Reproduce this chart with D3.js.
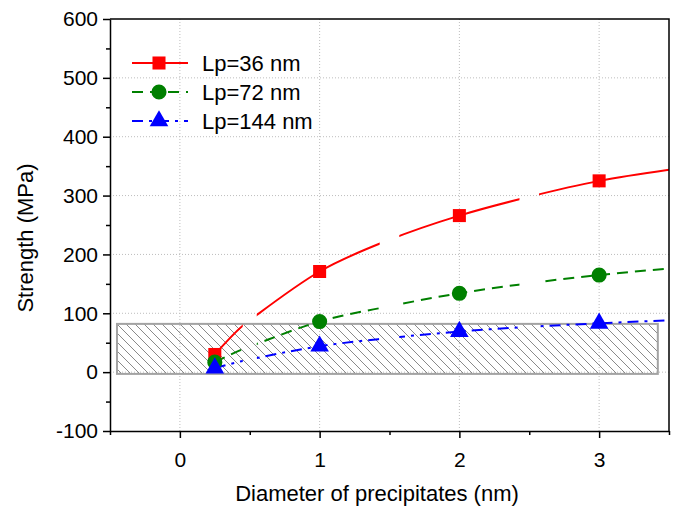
<!DOCTYPE html>
<html>
<head>
<meta charset="utf-8">
<script src="https://cdn.jsdelivr.net/npm/d3@7"></script>
<style>
  body { margin: 0; background: #fff; }
  svg { font-family: "Liberation Sans", Arial, sans-serif; }
</style>
</head>
<body>
<div id="chart"></div>
<script>
const width = 675, height = 508;
const margin = {top: 19, right: 6, bottom: 77, left: 110};

// measured points
const diam = [0.25, 1, 2, 3];
const lp36 = [30, 171, 266, 325];
const lp72 = [17, 86, 134, 165];
const lp144 = [7, 44, 69, 83];

// fitted curves
const fitX = [0.25, 0.45, 0.55, 1, 1.5, 2, 2.5, 3, 3.5];
const fit36 = [30, 79, 97, 171, 225, 266, 298, 325, 344];
const fit72 = [17, 39, 48, 86, 112, 134, 151, 165, 176];
const fit144 = [7, 19, 24, 44, 58, 69, 77, 83, 88];

// breaks in the drawn curves
const gaps = [[0.45, 0.55], [1.43, 1.57], [2.43, 2.57]];

// shaded band (experimental range)
const band = {x0: -0.45, x1: 3.42, y0: -3, y1: 82};

const xTicks = [0, 1, 2, 3];
const xMinor = [-0.5, 0.5, 1.5, 2.5, 3.5];
const yTicks = [-100, 0, 100, 200, 300, 400, 500, 600];
const yMinor = [-50, 50, 150, 250, 350, 450, 550];
const yGrid = [0, 100, 200, 300, 400, 500];

const labels = ["Lp=36 nm", "Lp=72 nm", "Lp=144 nm"];

const x = d3.scaleLinear().domain([-0.5, 3.5]).range([margin.left, width - margin.right]);
const y = d3.scaleLinear().domain([-100, 600]).range([height - margin.bottom, margin.top]);

const svg = d3.select('#chart').append('svg')
  .attr('width', width).attr('height', height);

const defs = svg.append('defs');
defs.append('pattern')
  .attr('id', 'hatch').attr('patternUnits', 'userSpaceOnUse')
  .attr('width', 9).attr('height', 9)
  .append('path')
  .attr('d', 'M0,0L9,9M-1,8L1,10M8,-1L10,1')
  .attr('stroke', '#8a8a8a').attr('stroke-width', 1);

// clip with holes where the curves break
const clip = defs.append('clipPath').attr('id', 'gapclip');
const edges = [-0.5].concat(...gaps).concat([3.5]);
for (let i = 0; i < edges.length; i += 2) {
  clip.append('rect')
    .attr('x', x(edges[i])).attr('y', 0)
    .attr('width', x(edges[i + 1]) - x(edges[i]))
    .attr('height', height);
}

// grid
svg.append('g').selectAll('line').data(xTicks).join('line')
  .attr('x1', d => x(d)).attr('x2', d => x(d))
  .attr('y1', y(600)).attr('y2', y(-100))
  .attr('stroke', '#bdbdbd').attr('stroke-dasharray', '1,2');
svg.append('g').selectAll('line').data(yGrid).join('line')
  .attr('x1', x(-0.5)).attr('x2', x(3.5))
  .attr('y1', d => y(d)).attr('y2', d => y(d))
  .attr('stroke', '#bdbdbd').attr('stroke-dasharray', '1,2');

// band
svg.append('rect')
  .attr('x', x(band.x0)).attr('y', y(band.y1))
  .attr('width', x(band.x1) - x(band.x0))
  .attr('height', y(band.y0) - y(band.y1))
  .attr('fill', 'url(#hatch)')
  .attr('stroke', '#a3a3a3').attr('stroke-width', 2);

const series = [
  {name: labels[0], vals: lp36, fit: fit36, color: '#ff0000', dash: null, shape: d3.symbolSquare, size: 170},
  {name: labels[1], vals: lp72, fit: fit72, color: '#008000', dash: '11,7', shape: d3.symbolCircle, size: 180},
  {name: labels[2], vals: lp144, fit: fit144, color: '#0000ff', dash: '11,6,3,6', shape: d3.symbolTriangle, size: 150}
];

const line = d3.line()
  .x(d => x(d[0])).y(d => y(d[1]))
  .curve(d3.curveMonotoneX);

series.forEach(s => {
  svg.append('path')
    .datum(fitX.map((v, i) => [v, s.fit[i]]))
    .attr('clip-path', 'url(#gapclip)')
    .attr('fill', 'none')
    .attr('stroke', s.color).attr('stroke-width', 2)
    .attr('stroke-dasharray', s.dash)
    .attr('d', line);
});

series.forEach(s => {
  svg.append('g').selectAll('path').data(s.vals).join('path')
    .attr('transform', (d, i) => `translate(${x(diam[i])},${y(d)})`)
    .attr('d', d3.symbol().type(s.shape).size(s.size))
    .attr('fill', s.color);
});

// axes
const xAxis = svg.append('g').attr('transform', `translate(0,${y(-100)})`)
  .call(d3.axisBottom(x).tickValues(xTicks).tickFormat(d => String(d)).tickSize(7).tickSizeOuter(0));
svg.append('g').attr('transform', `translate(0,${y(-100)})`)
  .call(d3.axisBottom(x).tickValues(xMinor).tickFormat('').tickSize(4).tickSizeOuter(0))
  .call(g => g.select('.domain').remove());
const yAxis = svg.append('g').attr('transform', `translate(${x(-0.5)},0)`)
  .call(d3.axisLeft(y).tickValues(yTicks).tickFormat(d => String(d)).tickSize(7).tickSizeOuter(0));
svg.append('g').attr('transform', `translate(${x(-0.5)},0)`)
  .call(d3.axisLeft(y).tickValues(yMinor).tickFormat('').tickSize(4).tickSizeOuter(0))
  .call(g => g.select('.domain').remove());

svg.selectAll('.domain, .tick line').attr('stroke', '#000').attr('stroke-width', 1.5);
xAxis.selectAll('text').attr('font-size', 21).attr('fill', '#000').attr('dy', '1.25em');
yAxis.selectAll('text').attr('font-size', 21).attr('fill', '#000').attr('x', -12);

// top and right frame
svg.append('path')
  .attr('d', `M${x(-0.5)},${y(600)}H${x(3.5)}V${y(-100)}`)
  .attr('fill', 'none').attr('stroke', '#000').attr('stroke-width', 1.5);

// titles
svg.append('text')
  .attr('x', 377).attr('y', 501)
  .attr('text-anchor', 'middle').attr('font-size', 22)
  .text('Diameter of precipitates (nm)');
svg.append('text')
  .attr('transform', 'translate(33,238) rotate(-90)')
  .attr('text-anchor', 'middle').attr('font-size', 22)
  .text('Strength (MPa)');

// legend
const leg = svg.append('g');
series.forEach((s, i) => {
  const ly = 63 + i * 29;
  leg.append('line')
    .attr('x1', 132).attr('x2', 188).attr('y1', ly).attr('y2', ly)
    .attr('stroke', s.color).attr('stroke-width', 2)
    .attr('stroke-dasharray', s.dash);
  leg.append('path')
    .attr('transform', `translate(159,${ly})`)
    .attr('d', d3.symbol().type(s.shape).size(s.size))
    .attr('fill', s.color);
  leg.append('text')
    .attr('x', 202).attr('y', ly).attr('dy', '0.36em')
    .attr('font-size', 22)
    .text(s.name);
});
</script>
</body>
</html>
